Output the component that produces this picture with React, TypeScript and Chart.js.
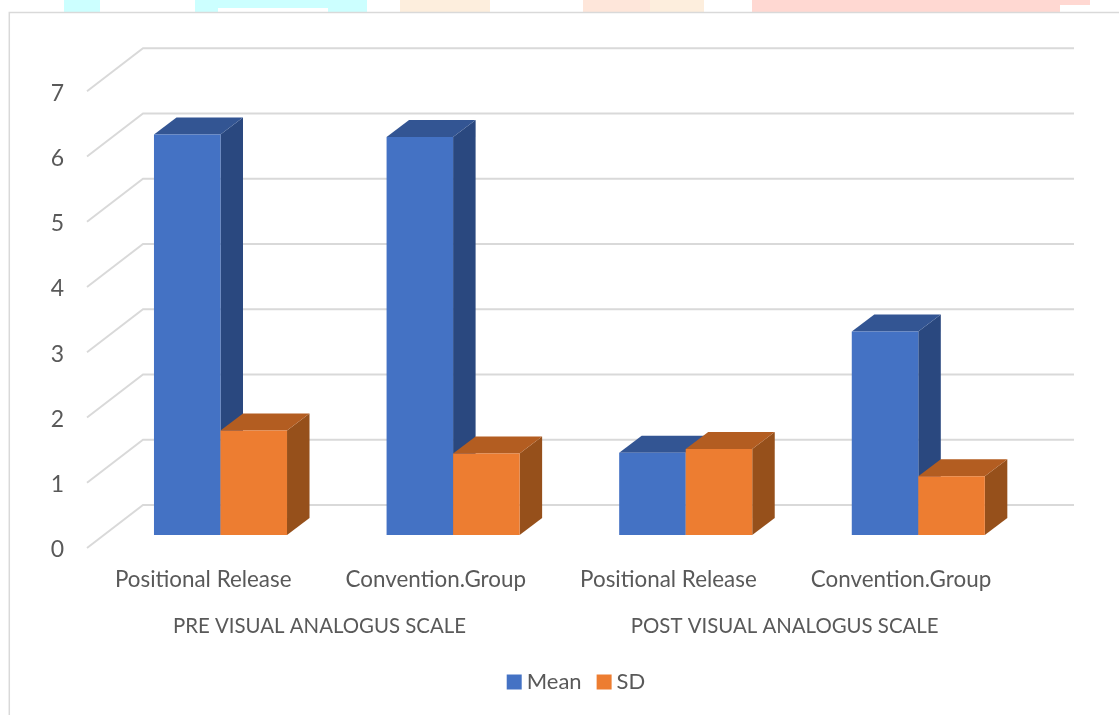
import React, { useEffect, useRef } from "react";
import { Chart, registerables } from "chart.js";

Chart.register(...registerables);

const categories = ["Positional Release", "Convention.Group", "Positional Release", "Convention.Group"];
const groups = ["PRE VISUAL ANALOGUS SCALE", "POST VISUAL ANALOGUS SCALE"];
const meanValues = [6.14, 6.1, 1.26, 3.12];
const sdValues = [1.6, 1.25, 1.32, 0.9];
const tickMax = 7;

const FONT = "Lato, Carlito, 'Open Sans', sans-serif";
const TEXT = "#595959";
const GRID = "#d9d9d9";
const DX = 22.5;
const DY = 17;

const shades: Record<string, { side: string; top: string }> = {
  Mean: { side: "#2a487f", top: "#335593" },
  SD: { side: "#96501b", top: "#b35d21" },
};

function poly(ctx: CanvasRenderingContext2D, pts: number[][], fill: string) {
  ctx.beginPath();
  pts.forEach(([x, y], i) => (i ? ctx.lineTo(x, y) : ctx.moveTo(x, y)));
  ctx.closePath();
  ctx.fillStyle = fill;
  ctx.fill();
}

const decor = {
  id: "decor",
  beforeDraw(chart: any) {
    const ctx = chart.ctx;
    ctx.save();
    ctx.fillStyle = "#fff";
    ctx.fillRect(0, 0, chart.width, chart.height);
    const strips: [number, number, number, string][] = [
      [64, 100, 12, "#ccffff"],
      [195, 218, 12, "#ccffff"],
      [218, 328, 8, "#ccffff"],
      [328, 367, 12, "#ccffff"],
      [400, 490, 12, "#fdeedd"],
      [583, 650, 12, "#fee6da"],
      [650, 704, 12, "#fdeedd"],
      [752, 1060, 12, "#ffd8d2"],
      [1060, 1090, 5, "#ffd8d2"],
    ];
    strips.forEach(([a, b, h, c]) => {
      ctx.fillStyle = c;
      ctx.fillRect(a, 0, b - a, h);
    });
    ctx.strokeStyle = GRID;
    ctx.lineWidth = 1.5;
    ctx.beginPath();
    ctx.moveTo(1119, 12.5);
    ctx.lineTo(9.3, 12.5);
    ctx.lineTo(9.3, 715);
    ctx.stroke();
    ctx.restore();
  },
};

const walls = {
  id: "walls",
  afterLayout(chart: any) {
    if (chart.legend) {
      chart.legend.left = 39;
      chart.legend.right = 1119;
      chart.legend.top -= 12;
    }
  },
  beforeDatasetsDraw(chart: any) {
    const ctx = chart.ctx;
    const y = chart.scales.y;
    ctx.save();
    ctx.strokeStyle = GRID;
    ctx.lineWidth = 1.9;
    y.ticks.forEach((t: any) => {
      const p = y.getPixelForValue(t.value);
      ctx.beginPath();
      ctx.moveTo(87, p + 13);
      ctx.lineTo(143, p - 30);
      ctx.lineTo(1074, p - 30);
      ctx.stroke();
    });
    ctx.restore();
    // Series are painted in dataset order so each front face covers the previous side face.
    chart.data.datasets.forEach((ds: any, i: number) => {
      const meta = chart.getDatasetMeta(i);
      const c = shades[ds.label as string];
      meta.data.forEach((bar: any) => {
        const { x, y: top, base, width } = bar.getProps(["x", "y", "base", "width"], true);
        const l = x - width / 2;
        const r = x + width / 2;
        poly(ctx, [[r, top], [r + DX, top - DY], [r + DX, base - DY], [r, base]], c.side);
        poly(ctx, [[l, top], [l + DX, top - DY], [r + DX, top - DY], [r, top]], c.top);
      });
      meta.controller.draw();
    });
  },
  beforeDatasetDraw() {
    return false;
  },
};

export default function App() {
  const ref = useRef<HTMLCanvasElement>(null);
  useEffect(() => {
    const font = { family: FONT, size: 22.4 };
    const chart = new Chart(ref.current as HTMLCanvasElement, {
      type: "bar",
      data: {
        labels: categories,
        datasets: [
          { label: "Mean", data: meanValues, backgroundColor: "#4472c4", borderWidth: 0, categoryPercentage: 0.572, barPercentage: 1 },
          { label: "SD", data: sdValues, backgroundColor: "#ed7d31", borderWidth: 0, categoryPercentage: 0.572, barPercentage: 1 },
        ],
      },
      options: {
        responsive: false,
        animation: false,
        layout: { padding: { top: 78.3, right: 84.4, left: 0, bottom: 0 } },
        plugins: {
          title: { display: false },
          tooltip: { enabled: false },
          legend: {
            position: "bottom",
            labels: {
              font: { family: FONT, size: 22 },
              color: TEXT,
              usePointStyle: true,
              pointStyle: "rect",
              boxWidth: 3,
              boxHeight: 15,
              padding: 21,
            },
          },
        },
        scales: {
          x: {
            type: "category",
            offset: true,
            grid: { display: false },
            border: { display: false },
            ticks: { font, color: TEXT, labelOffset: -17.3, padding: 23, maxRotation: 0, autoSkip: false },
            afterFit: (s: any) => { s.height = 60; },
          },
          x2: {
            type: "category",
            labels: groups,
            position: "bottom",
            offset: true,
            grid: { display: false },
            border: { display: false },
            ticks: { font: { family: FONT, size: 20.4 }, color: TEXT, labelOffset: -17.3, padding: 11, maxRotation: 0, autoSkip: false },
            afterFit: (s: any) => { s.height = 67; },
          },
          y: {
            min: 0,
            max: tickMax,
            grid: { display: false },
            border: { display: false },
            ticks: { font: { family: FONT, size: 23 }, color: TEXT, stepSize: 1, padding: 32, labelOffset: 15 },
            afterFit: (s: any) => { s.width = 104.2; },
          },
        },
      } as any,
      plugins: [decor, walls],
    });
    return () => chart.destroy();
  }, []);
  return (
    <div style={{ position: "fixed", left: 0, top: 0, width: 1119, height: 715 }}>
      <canvas ref={ref} width={1119} height={715} style={{ display: "block" }} />
    </div>
  );
}
